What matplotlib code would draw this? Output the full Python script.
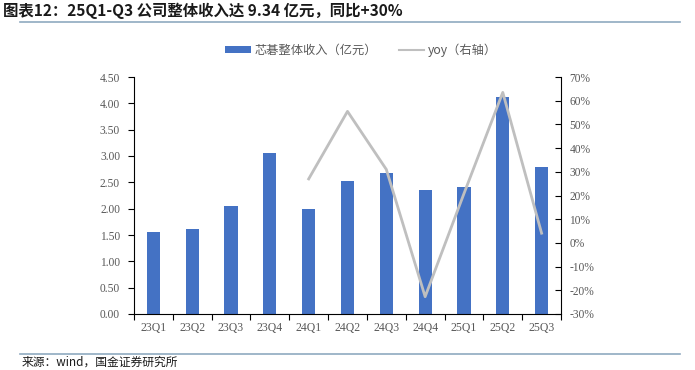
import matplotlib
matplotlib.use("Agg")
import matplotlib.pyplot as plt
from matplotlib.lines import Line2D
from matplotlib.patches import Patch
import numpy as np

plt.rcParams['font.family'] = ['Noto Sans CJK SC', 'DejaVu Sans']

categories = ["23Q1", "23Q2", "23Q3", "23Q4", "24Q1", "24Q2", "24Q3", "24Q4", "25Q1", "25Q2", "25Q3"]
revenue = [1.56, 1.62, 2.05, 3.05, 1.99, 2.52, 2.68, 2.36, 2.41, 4.12, 2.79]
yoy_cats = ["24Q1", "24Q2", "24Q3", "24Q4", "25Q1", "25Q2", "25Q3"]
yoy = [27.0, 55.5, 31.0, -22.7, 20.8, 63.5, 4.1]
left_ticks = [0, 0.5, 1.0, 1.5, 2.0, 2.5, 3.0, 3.5, 4.0, 4.5]
right_ticks = [-30, -20, -10, 0, 10, 20, 30, 40, 50, 60, 70]

W, H = 695, 370
fig = plt.figure(figsize=(W / 100, H / 100), dpi=100)
ax = fig.add_axes([134 / W, 1 - 314 / H, (561 - 134) / W, (314 - 77) / H])
ax2 = ax.twinx()

x = np.arange(len(categories))
bar_color = "#4472C4"
line_color = "#BFBFBF"
tick_color = "#595959"
serif = ['Liberation Serif', 'DejaVu Serif']

ax.bar(x, revenue, width=0.34, color=bar_color, zorder=2)
yx = [categories.index(c) for c in yoy_cats]
ax2.plot(yx, yoy, color=line_color, lw=2.0, zorder=3)

ax.set_xlim(-0.5, len(categories) - 0.5)
ax.set_ylim(0, 4.5)
ax2.set_ylim(-30, 70)
ax.set_yticks(left_ticks)
ax.set_yticklabels([f"{v:.2f}" for v in left_ticks], family=serif, fontsize=8.3, color=tick_color)
ax2.set_yticks(right_ticks)
ax2.set_yticklabels([f"{v}%" for v in right_ticks], family=serif, fontsize=8.3, color=tick_color)

ax.set_xticks(x)
ax.set_xticklabels(categories, family=serif, fontsize=8.5, color=tick_color)
ax.tick_params(axis='x', which='major', length=0, pad=6)
ax.set_xticks(np.arange(-0.5, len(categories), 1), minor=True)
ax.tick_params(axis='x', which='minor', length=4, direction='out', color='black', width=0.8)
ax.tick_params(axis='y', length=4, direction='out', color='black', width=0.8, pad=6)
ax2.tick_params(axis='y', length=4, direction='in', color='black', width=0.8, pad=6)

for a in (ax, ax2):
    a.spines['top'].set_visible(False)
ax.spines['right'].set_visible(False)
ax2.spines['left'].set_visible(False)
ax2.spines['bottom'].set_visible(False)
ax.spines['left'].set_color('black')
ax.spines['bottom'].set_color('black')
ax2.spines['right'].set_color('black')
ax.spines['left'].set_linewidth(0.8)
ax.spines['bottom'].set_linewidth(0.8)
ax2.spines['right'].set_linewidth(0.8)

handles = [Patch(facecolor=bar_color, edgecolor='none'),
           Line2D([0], [0], color=line_color, lw=1.5)]
labels = ["芯碁整体收入（亿元）", "yoy（右轴）"]
fig.legend(handles, labels, loc='center', bbox_to_anchor=(361 / W, 1 - 50 / H), ncol=2,
           frameon=False, fontsize=8.8, labelcolor=tick_color, handlelength=2.1,
           handleheight=0.5, columnspacing=1.8, handletextpad=0.3)

fig.text(3 / W, 1 - 11 / H, "图表12：25Q1-Q3 公司整体收入达 9.34 亿元，同比+30%",
         fontsize=11.1, fontweight='bold', fontstyle='italic', color='#1a1a1a',
         va='center', ha='left')
line_c = "#8FAAC0"
fig.add_artist(Line2D([20 / W, 680 / W], [1 - 22 / H, 1 - 22 / H], color=line_c, lw=1.2))
fig.add_artist(Line2D([20 / W, 680 / W], [1 - 354 / H, 1 - 354 / H], color=line_c, lw=1.2))
fig.text(22 / W, 1.5 / H, "来源：wind，国金证券研究所", fontsize=8.5, color='#1a1a1a',
         va='bottom', ha='left')

fig.savefig("out.png", dpi=100)
